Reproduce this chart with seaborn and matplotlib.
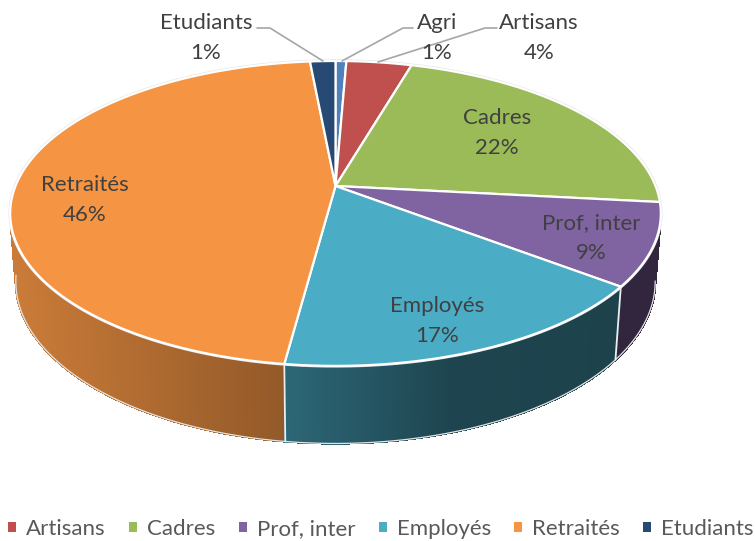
import numpy as np
import matplotlib
matplotlib.use("Agg")
import matplotlib.pyplot as plt
from matplotlib.patches import Patch
import seaborn as sns

categories = ["Agri", "Artisans", "Cadres", "Prof, inter", "Employés", "Retraités", "Etudiants"]
values = [0.64, 3.86, 22.2, 8.7, 16.7, 46.4, 1.5]
percent_labels = ["1%", "4%", "22%", "9%", "17%", "46%", "1%"]
colors = ["#4F81BD", "#C0504D", "#9BBB59", "#8064A2", "#4BACC6", "#F59544", "#264A73"]

sns.set_theme(style="white")
plt.rcParams["font.family"] = ["Lato", "DejaVu Sans"]
palette = dict(zip(categories, sns.color_palette(colors)))

W, H = 755, 541
fig = plt.figure(figsize=(W / 100, H / 100), dpi=100)
ax = fig.add_axes([0, 0, 1, 1])
ax.set_xlim(0, W)
ax.set_ylim(H, 0)
ax.axis("off")

CX, CY = 335.5, 186.0
A, B, K = 320.0, 147.5, 0.18
M, C = 0.017, 68.0


def top(t):
    x, y = np.sin(t), np.cos(t)
    w = 1 + K * y
    return CX + A * x / w, CY - B * y / w


def bottom(t):
    x, y = np.sin(t), np.cos(t)
    w = 1 + K * y + M
    return CX + A * x / w, CY - (B * y - C) / w


shade_x = [10, 285, 450, 660]
shade_v = [0.83, 0.60, 0.40, 0.38]

edges = np.cumsum([0] + values) / np.sum(values) * 2 * np.pi

# Side wall, drawn from the back to the front
strips = []
for name, t0, t1 in zip(categories, edges[:-1], edges[1:]):
    ts = np.linspace(t0, t1, max(3, int((t1 - t0) * 200)))
    for a, b in zip(ts[:-1], ts[1:]):
        if np.cos((a + b) / 2) < 0.12:
            strips.append((np.cos((a + b) / 2), a, b, name))
strips.sort(key=lambda s: -s[0])

for _, a, b, name in strips:
    xa, ya = top(a)
    xc, yc = top(b)
    xd, yd = bottom(b)
    xe, ye = bottom(a)
    f = np.interp((xa + xc) / 2, shade_x, shade_v)
    col = tuple(np.array(palette[name]) * f)
    ax.fill([xa, xc, xd, xe], [ya, yc, yd, ye], color=col, lw=1.0, antialiased=False, zorder=2)

# Thin pale outline of the wall's lower rim
tt = np.radians(np.linspace(100, 262, 300))
ax.plot(*bottom(tt), color="#E4E4E4", lw=0.9, zorder=3)

# Pale outline around the top face
tt = np.linspace(0, 2 * np.pi, 600)
ax.plot(*top(tt), color="#E6E6E6", lw=2.5, zorder=3.5)

# White dividers on the wall
for e in edges[1:-1]:
    if np.cos(e) < -0.2:
        xt, yt = top(e)
        xb, yb = bottom(e)
        ax.plot([xt, xb], [yt, yb], color="#EDEDED", lw=1.3, zorder=3)

# Top face
for name, t0, t1 in zip(categories, edges[:-1], edges[1:]):
    ts = np.linspace(t0, t1, 200)
    xs, ys = top(ts)
    ax.fill(np.r_[CX, xs], np.r_[CY, ys], facecolor=palette[name],
            edgecolor="white", lw=1.6, joinstyle="round", zorder=4)

text_col = "#404040"
FS = 16
label_xy = {"Agri": (437, 38), "Artisans": (539, 38), "Cadres": (497, 133),
            "Prof, inter": (591, 238), "Employés": (437, 321),
            "Retraités": (85, 200), "Etudiants": (206, 38)}
for name, pct in zip(categories, percent_labels):
    x, y = label_xy[name]
    ax.text(x, y, f"{name}\n{pct}", ha="center", va="center", color=text_col,
            fontsize=FS, linespacing=1.66, zorder=6)

leaders = [([257, 270, 323], [28, 28, 61]),
           ([413, 403, 342], [28, 28, 61]),
           ([497, 485, 378], [28, 28, 62])]
for lx, ly in leaders:
    ax.plot(lx, ly, color="#A6A6A6", lw=1.2, zorder=5)

# Legend (Agri is not listed in the reference)
legend_names = [n for n in categories if n != "Agri"]
handles = [Patch(facecolor=palette[n], edgecolor="none", label=n) for n in legend_names]
ax.legend(handles=handles, loc="center", bbox_to_anchor=(381 / W, 1 - 529 / H),
          bbox_transform=fig.transFigure, ncol=6, frameon=False, fontsize=FS,
          handlelength=0.36, handleheight=0.36, handletextpad=0.45, columnspacing=1.05,
          labelcolor="#595959", borderpad=0, borderaxespad=0)

fig.savefig("out.png", dpi=100)
